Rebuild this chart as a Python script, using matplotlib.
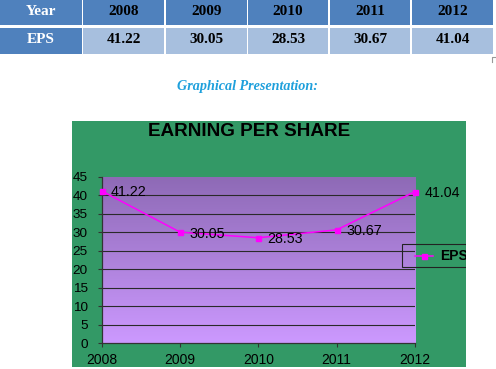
import numpy as np
import matplotlib
matplotlib.use('Agg')
from matplotlib import pyplot as plt
from matplotlib.patches import Rectangle
from matplotlib.lines import Line2D
from matplotlib.colors import LinearSegmentedColormap

# data
years = [2008, 2009, 2010, 2011, 2012]
eps = [41.22, 30.05, 28.53, 30.67, 41.04]
y_ticks = list(range(0, 50, 5))
table_header = ['Year'] + [str(y) for y in years]
table_row = ['EPS'] + ['%.2f' % v for v in eps]

W, H = 496, 369
plt.rcParams['font.family'] = ['Liberation Sans', 'DejaVu Sans']
fig = plt.figure(figsize=(W / 100, H / 100), dpi=100)
fig.patch.set_facecolor('white')


def box(x0, y0, x1, y1):
    # pixel box, top-left origin -> figure fraction [l, b, w, h]
    return [x0 / W, 1 - y1 / H, (x1 - x0) / W, (y1 - y0) / H]


def rect(x0, y0, x1, y1, **kw):
    l, b, w, h = box(x0, y0, x1, y1)
    r = Rectangle((l, b), w, h, transform=fig.transFigure, **kw)
    fig.add_artist(r)
    return r


def ftext(x, y, s, **kw):
    return fig.text(x / W, 1 - y / H, s, **kw)


# ---- table at the top ----
DARK = '#4f81bd'
LIGHT = '#a7bfde'
cols = [(0, 82), (83, 164), (166, 247), (248, 328), (330, 410), (412, 493)]
rows = [(0, 25), (28, 54)]
baselines = [15, 43]

for i, (x0, x1) in enumerate(cols):
    # header row
    rect(x0, rows[0][0], x1, rows[0][1], facecolor=DARK, edgecolor='none', zorder=-2)
    ftext((x0 + x1) / 2, baselines[0], table_header[i], ha='center', va='baseline',
          family='Liberation Serif', weight='bold', size=11,
          color='white' if i == 0 else 'black')
    # EPS row
    rect(x0, rows[1][0], x1, rows[1][1], facecolor=DARK if i == 0 else LIGHT,
         edgecolor='none', zorder=-2)
    ftext((x0 + x1) / 2, baselines[1], table_row[i], ha='center', va='baseline',
          family='Liberation Serif', weight='bold', size=11,
          color='white' if i == 0 else 'black')

# little page corner mark
fig.add_artist(Line2D([492 / W, 492 / W, 496 / W], [1 - 62 / H, 1 - 57 / H, 1 - 57 / H],
                      transform=fig.transFigure, color='#999999', lw=0.8))

ftext(247.5, 90, 'Graphical Presentation:', ha='center', va='baseline',
      family='Liberation Serif', style='italic', weight='bold', size=10.2,
      color='#1fa0dc')

# ---- chart ----
rect(72, 121, 466, 367, facecolor='#339966', edgecolor='none', zorder=-1)

ftext(249, 136, 'EARNING PER SHARE', ha='center', va='baseline',
      weight='bold', size=13.6, color='black')

ax = fig.add_axes(box(101.7, 177, 415, 343))
ax.set_facecolor('none')
cmap = LinearSegmentedColormap.from_list('purp', ['#8e6ab6', '#cc99ff'])
grad = np.linspace(0, 1, 256).reshape(-1, 1)
ax.imshow(grad, extent=[years[0], years[-1], 0, 45], origin='upper',
          aspect='auto', cmap=cmap, zorder=0)

ax.set_xlim(years[0], years[-1])
ax.set_ylim(0, 45)
ax.set_xticks(years)
ax.set_yticks(y_ticks)
for v in y_ticks[1:-1]:
    ax.axhline(v, color='#2a2a2a', lw=0.8, zorder=1)

for s in ['top', 'right']:
    ax.spines[s].set_visible(False)
for s in ['left', 'bottom']:
    ax.spines[s].set_color('#333333')
    ax.spines[s].set_linewidth(0.9)
ax.tick_params(axis='y', direction='out', length=3, width=0.8, color='#333333',
               labelsize=9.7, pad=7)
ax.tick_params(axis='x', direction='out', length=3, width=0.8, color='#333333',
               labelsize=10, pad=4.5)

ax.plot(years, eps, color='#ff00ff', lw=1.1, marker='s', markersize=3.6,
        zorder=3, clip_on=False)
for x, v in zip(years, eps):
    ax.annotate('%.2f' % v, (x, v), xytext=(6.7, 0), textcoords='offset points',
                ha='left', va='center_baseline', size=10.3, color='black',
                annotation_clip=False, zorder=4)

# legend box
rect(402, 244, 466, 267, facecolor='none', edgecolor='#222222', lw=0.8, zorder=5)
fig.add_artist(Line2D([415 / W, 433 / W], [1 - 256 / H, 1 - 256 / H],
                      transform=fig.transFigure, color='#ff00ff', lw=1.1, zorder=5))
fig.add_artist(Line2D([424 / W], [1 - 256 / H], transform=fig.transFigure,
                      color='#ff00ff', marker='s', markersize=3.6, lw=0, zorder=5))
ftext(440, 260, 'EPS', ha='left', va='baseline', weight='bold', size=10,
      color='black')

# page edge beyond the chart
rect(0, 367, W, H + 2, facecolor='white', edgecolor='none', zorder=-0.5)
rect(466, 121, W + 2, 367, facecolor='white', edgecolor='none', zorder=10)

fig.savefig('out.png', dpi=100)
